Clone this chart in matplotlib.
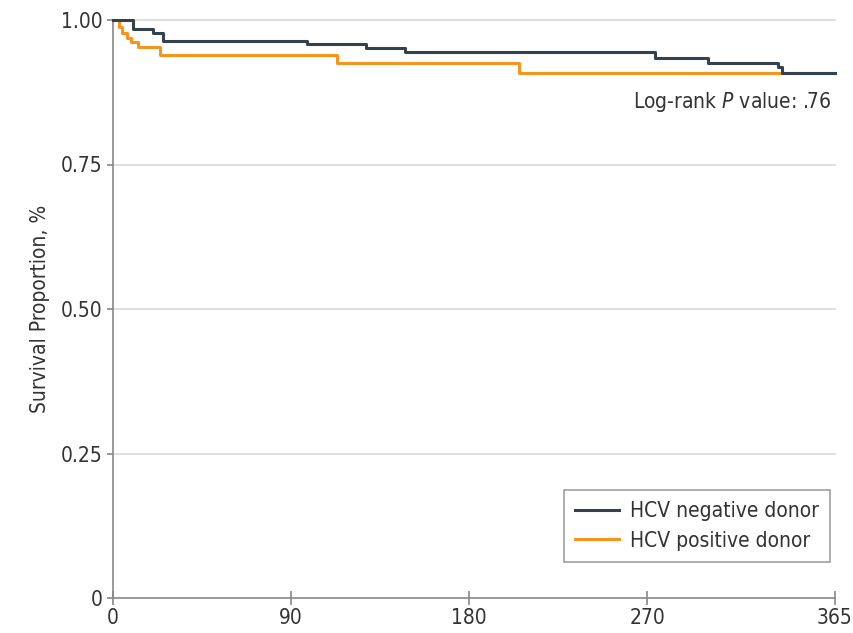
import matplotlib.pyplot as plt

# Kaplan-Meier step data (days, survival proportion)
neg_t = [0, 10, 20, 25.5, 98, 128, 147.5, 274, 301, 336, 338, 365]
neg_s = [1.000, 0.984, 0.978, 0.963, 0.958, 0.951, 0.944, 0.934, 0.926, 0.919, 0.909, 0.909]
pos_t = [0, 3, 4.5, 7, 9, 12.6, 23.7, 113, 205.5, 365]
pos_s = [1.000, 0.988, 0.977, 0.969, 0.962, 0.953, 0.939, 0.925, 0.909, 0.909]

labels = ["HCV negative donor", "HCV positive donor"]
colors = ["#34424e", "#f7941d"]

xticks = [0, 90, 180, 270, 365]
yticks = [0, 0.25, 0.50, 0.75, 1.00]
yticklabels = ["0", "0.25", "0.50", "0.75", "1.00"]

plt.rcParams["font.family"] = ["DejaVu Sans"]
plt.rcParams["font.stretch"] = "condensed"
txt = "#333333"
fs = 15

fig = plt.figure(figsize=(8.54, 6.33), dpi=100)
ax = fig.add_axes([113/854, 35/633, 722/854, 578/633])

for y in yticks[1:]:
    ax.axhline(y, color="#d9d9d9", lw=1.2, zorder=0, clip_on=False)

ax.step(pos_t, pos_s, where="post", color=colors[1], lw=2.2, label=labels[1], clip_on=False, zorder=2)
ax.step(neg_t, neg_s, where="post", color=colors[0], lw=2.2, label=labels[0], clip_on=False, zorder=3)

ax.set_xlim(0, 365)
ax.set_ylim(0, 1.0)
ax.set_xticks(xticks)
ax.set_xticklabels([str(x) for x in xticks])
ax.set_yticks(yticks)
ax.set_yticklabels(yticklabels)
ax.tick_params(axis="both", colors="#888888", labelcolor=txt, labelsize=fs, length=4.5, width=1.2, pad=3)
ax.tick_params(axis="x", direction="inout", length=10, pad=2)

for s in ["top", "right"]:
    ax.spines[s].set_visible(False)
for s in ["left", "bottom"]:
    ax.spines[s].set_color("#888888")
    ax.spines[s].set_linewidth(1.2)

ax.set_ylabel("Survival Proportion, %", fontsize=fs, color=txt, labelpad=8)

ax.text(0.996, 0.858, "Log-rank $\\it{P}$ value: .76", transform=ax.transAxes,
        ha="right", va="center", fontsize=fs, color=txt)

handles, labs = ax.get_legend_handles_labels()
leg = ax.legend(handles[::-1], labs[::-1], loc="lower right", bbox_to_anchor=(0.993, 0.062),
                borderaxespad=0, fontsize=fs, frameon=True, fancybox=False, edgecolor="#888888",
                handlelength=2.1, handletextpad=0.5, borderpad=0.55, labelspacing=0.45)
leg.get_frame().set_linewidth(1.2)
for t in leg.get_texts():
    t.set_color(txt)

fig.savefig("out.png", dpi=100)
